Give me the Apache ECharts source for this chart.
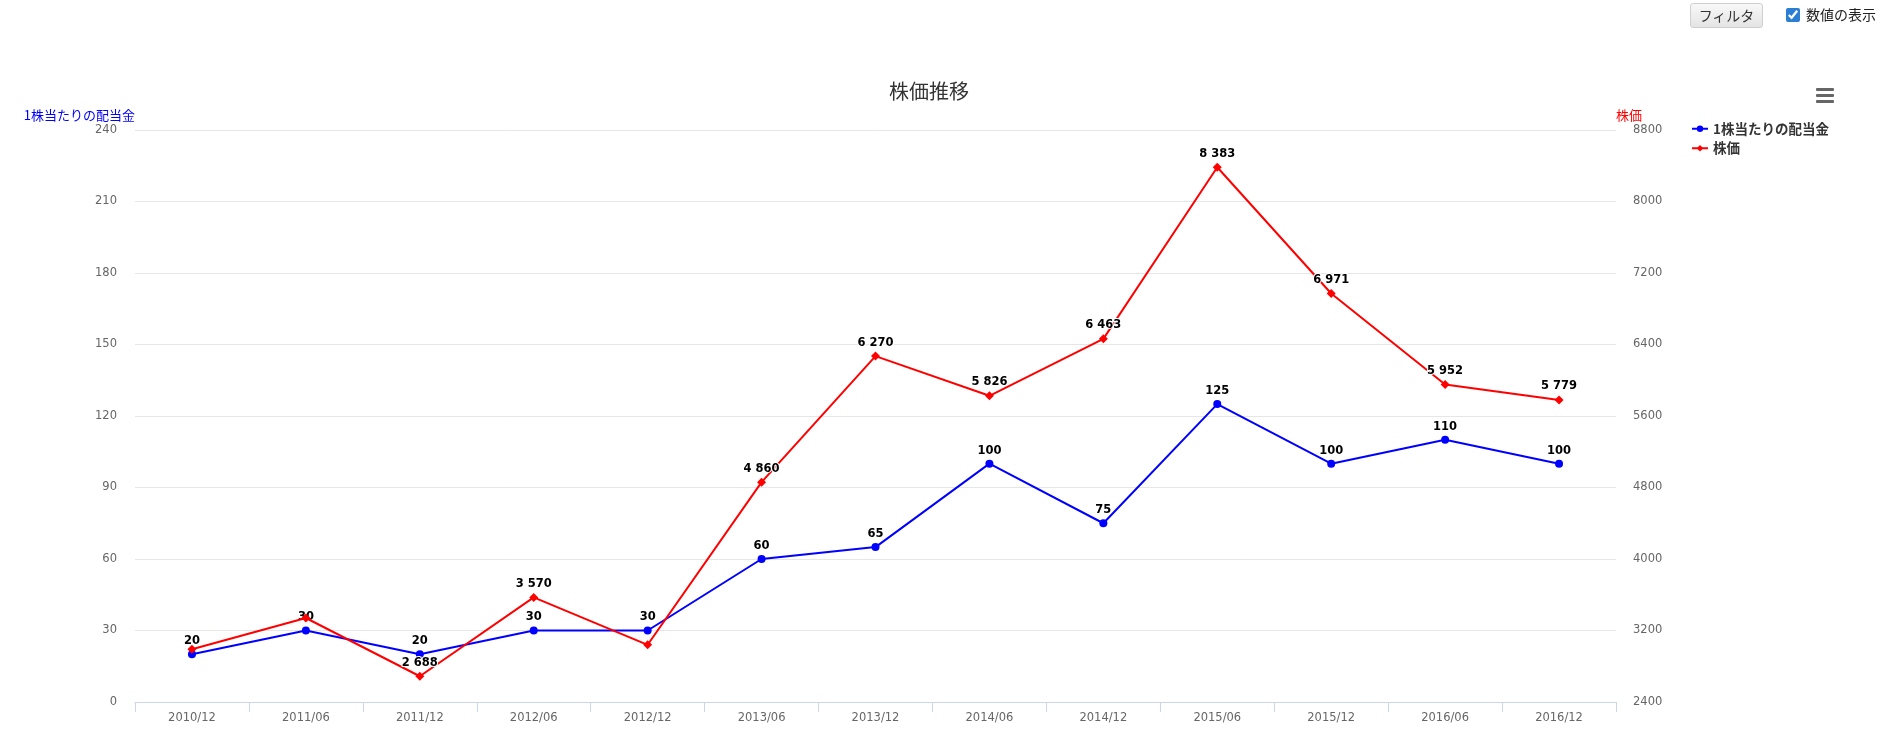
<!DOCTYPE html>
<html>
<head>
<meta charset="utf-8">
<script src="https://cdn.jsdelivr.net/npm/echarts@6/dist/echarts.min.js"></script>
<style>
  html, body { margin:0; padding:0; background:#fff; width:1895px; height:747px; overflow:hidden; font-family:"DejaVu Sans","Noto Sans CJK JP",sans-serif; }
  #chart { position:absolute; left:0; top:0; width:1895px; height:747px; }
  #btn { position:absolute; left:1690px; top:3px; width:73px; height:25px; box-sizing:border-box; border:1px solid #cfcfcf; border-radius:3px;
         background:linear-gradient(#f8f8f8,#e4e4e4); font:14px "Noto Sans CJK JP",sans-serif; color:#333; text-align:center; line-height:23px; z-index:2; }
  #chk { position:absolute; left:1786px; top:8px; margin:0; width:14px; height:14px; z-index:2; accent-color:#2a7ed3; }
  #chkl { position:absolute; left:1806px; top:4px; font:14px "Noto Sans CJK JP",sans-serif; color:#222; z-index:2; line-height:20px; }
</style>
</head>
<body>
<div id="chart"></div>
<div id="btn">フィルタ</div>
<input id="chk" type="checkbox" checked>
<div id="chkl">数値の表示</div>
<script>
const categories = ['2010/12','2011/06','2011/12','2012/06','2012/12','2013/06','2013/12','2014/06','2014/12','2015/06','2015/12','2016/06','2016/12'];
const dividend = [20, 30, 20, 30, 30, 60, 65, 100, 75, 125, 100, 110, 100];
const price = [2990, 3340, 2688, 3570, 3040, 4860, 6270, 5826, 6463, 8383, 6971, 5952, 5779];
const priceLabelHidden = [0, 1, 4];

function fmt(v) { return String(v).replace(/\B(?=(\d{3})+(?!\d))/g, ' '); }

const labelStyle = {
  show: true, position: 'top', distance: 3,
  fontFamily: 'DejaVu Sans', fontSize: 11.5, fontWeight: 'bold', color: '#000',
  textBorderColor: '#fff', textBorderWidth: 2
};
const axisFont = { color: '#666', fontFamily: 'DejaVu Sans', fontSize: 11.5 };

const chart = echarts.init(document.getElementById('chart'), null, { renderer: 'canvas' });
chart.setOption({
  animation: false,
  title: {
    text: '株価推移', left: 884, top: 76,
    textStyle: { fontFamily: 'Noto Sans CJK JP', fontSize: 20, fontWeight: 'normal', color: '#333' }
  },
  legend: {
    orient: 'vertical', left: 1686, top: 117, itemGap: 6, itemWidth: 16, itemHeight: 8,
    textStyle: { fontFamily: 'Noto Sans CJK JP', fontSize: 13.5, fontWeight: 'bold', color: '#333' },
    data: ['1株当たりの配当金', '株価']
  },
  grid: { left: 135, right: 279, top: 130, bottom: 45 },
  xAxis: {
    type: 'category', data: categories, boundaryGap: true,
    axisLine: { lineStyle: { color: '#ccd6eb', width: 1 } },
    axisTick: { show: true, length: 10, lineStyle: { color: '#ccd6eb' } },
    axisLabel: Object.assign({ margin: 10 }, axisFont),
    splitLine: { show: false }
  },
  yAxis: [
    {
      type: 'value', min: 0, max: 240, interval: 30,
      name: '1株当たりの配当金', nameLocation: 'end', nameGap: 8,
      nameTextStyle: { color: '#0000ff', fontFamily: 'Noto Sans CJK JP', fontSize: 13, align: 'right', verticalAlign: 'bottom' },
      axisLine: { show: false }, axisTick: { show: false },
      axisLabel: Object.assign({ margin: 18 }, axisFont),
      splitLine: { lineStyle: { color: '#e6e6e6', width: 1 } }
    },
    {
      type: 'value', min: 2400, max: 8800, interval: 800, position: 'right',
      name: '株価', nameLocation: 'end', nameGap: 8,
      nameTextStyle: { color: '#ff0000', fontFamily: 'Noto Sans CJK JP', fontSize: 13, align: 'left', verticalAlign: 'bottom' },
      axisLine: { show: false }, axisTick: { show: false },
      axisLabel: Object.assign({ margin: 17, formatter: v => String(v) }, axisFont),
      splitLine: { show: false }
    }
  ],
  graphic: [
    { type: 'rect', left: 1816, top: 88, shape: { width: 18, height: 3, r: 1 }, style: { fill: '#666' } },
    { type: 'rect', left: 1816, top: 94, shape: { width: 18, height: 3, r: 1 }, style: { fill: '#666' } },
    { type: 'rect', left: 1816, top: 100, shape: { width: 18, height: 3, r: 1 }, style: { fill: '#666' } }
  ],
  series: [
    {
      name: '1株当たりの配当金', type: 'line', yAxisIndex: 0, data: dividend,
      symbol: 'circle', symbolSize: 8, showAllSymbol: true,
      lineStyle: { color: '#0000ff', width: 2 }, itemStyle: { color: '#0000ff' },
      label: Object.assign({}, labelStyle, { formatter: p => fmt(p.value) }),
      z: 2
    },
    {
      name: '株価', type: 'line', yAxisIndex: 1,
      data: price.map((v, i) => priceLabelHidden.includes(i) ? { value: v, label: { show: false } } : v),
      symbol: 'diamond', symbolSize: 9, showAllSymbol: true,
      lineStyle: { color: '#ff0000', width: 2 }, itemStyle: { color: '#ff0000' },
      label: Object.assign({}, labelStyle, { formatter: p => fmt(p.value) }),
      z: 3
    }
  ]
});
</script>
</body>
</html>
